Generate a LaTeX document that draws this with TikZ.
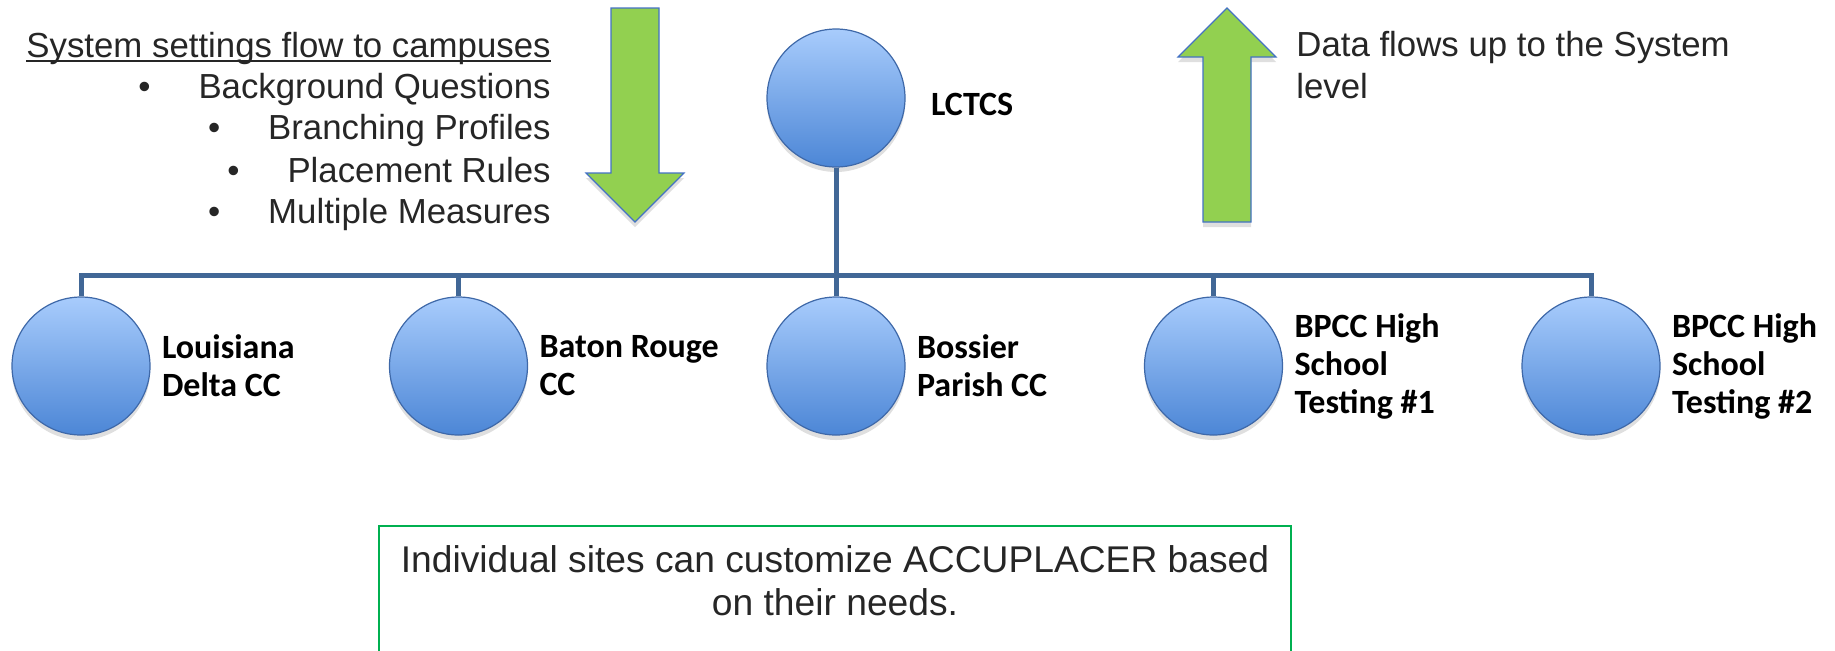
\documentclass[tikz,border=0pt]{standalone}
\usepackage{fontspec}
\setmainfont{Liberation Sans}
\newfontfamily\sitefont{Carlito}
\usetikzlibrary{positioning, shadows}
\definecolor{textgray}{RGB}{38,38,38}
\definecolor{flowgreen}{RGB}{146,208,80}
\definecolor{flowblue}{RGB}{68,114,196}
\definecolor{linkblue}{RGB}{65,103,150}
\definecolor{balltop}{RGB}{168,204,252}
\definecolor{ballbottom}{RGB}{76,134,214}
\definecolor{ballrim}{RGB}{62,104,168}
\definecolor{notegreen}{RGB}{0,176,80}
\newcommand\flowbullet{\textbullet\hspace{24pt}}
\tikzset{
site/.style={circle, minimum size=69pt, inner sep=0pt, draw=ballrim, line width=0.6pt, top color=balltop, bottom color=ballbottom, drop shadow={opacity=0.25, shadow xshift=0pt, shadow yshift=-2.5pt}}, % the blue balls
sitetext/.style={font=\sitefont\fontsize{17}{19}\selectfont\bfseries, align=left, inner sep=0pt}, % campus names
flowtext/.style={font=\fontsize{17.4}{21}\selectfont, text=textgray, inner sep=0pt}, % plain text
flowarrow/.style={fill=flowgreen, draw=flowblue, line width=0.6pt, drop shadow={opacity=0.25, shadow xshift=0pt, shadow yshift=-2.5pt}}, % big green arrows
link/.style={draw=linkblue, line width=2.5pt}, % org chart lines
notebox/.style={draw=notegreen, line width=1pt},
}
\begin{document}
\begin{tikzpicture}[x=0.5pt, y=-0.5pt]
\useasboundingbox (0,0) rectangle (1835,650);

\node[flowtext, anchor=base east] (settings) at (551,57) {System settings flow to campuses};
\draw[textgray, line width=0.6pt] ([yshift=-2pt]settings.base west) -- ([yshift=-2pt]settings.base east);
\node[flowtext, anchor=base east] (bgq) at (551,98) {\flowbullet Background Questions};
\node[flowtext, anchor=base east] (branch) at (551,139) {\flowbullet Branching Profiles};
\node[flowtext, anchor=base east] (rules) at (551,182) {\flowbullet Placement Rules};
\node[flowtext, anchor=base east] (measures) at (551,223) {\flowbullet Multiple Measures};

\draw[flowarrow] (611,8) -- (659,8) -- (659,173) -- (684,173) -- (635,222) -- (586,173) -- (611,173) -- cycle;
\draw[flowarrow] (1227,8) -- (1276,57) -- (1251,57) -- (1251,222) -- (1203,222) -- (1203,57) -- (1178,57) -- cycle;
\node[flowtext, anchor=base west, align=left] (dataflow) at (1296,98) {Data flows up to the System\\level};

\node[site] (lctcs) at (836,98) {}
    [sibling distance=188.75pt, level distance=134pt,
     edge from parent/.style={link},
     edge from parent path={(\tikzparentnode.south) |- ([yshift=10.5pt]\tikzchildnode.north) -- (\tikzchildnode.north)}]
    child {node[site] (ldcc) {}}
    child {node[site] (brcc) {}}
    child {node[site] (bpcc) {}}
    child {node[site] (hs1) {}}
    child {node[site] (hs2) {}};

\node[sitetext, right=12.5pt of lctcs, yshift=-3.25pt] (lctcstext) {LCTCS};
\node[sitetext, right=5.5pt of ldcc] (ldcctext) {Louisiana\\Delta CC};
\node[sitetext, right=5.5pt of brcc] (brcctext) {Baton Rouge\\CC};
\node[sitetext, right=5.5pt of bpcc] (bpcctext) {Bossier\\Parish CC};
\node[sitetext, right=5.5pt of hs1] (hs1text) {BPCC High\\School\\Testing \#1};
\node[sitetext, right=5.5pt of hs2] (hs2text) {BPCC High\\School\\Testing \#2};

\draw[notebox] (379,526) rectangle (1291,700);
\node[flowtext, font=\fontsize{18.6}{21.5}\selectfont, anchor=base, align=center] (note) at (835,615) {Individual sites can customize ACCUPLACER based\\on their needs.};
\end{tikzpicture}
\end{document}
